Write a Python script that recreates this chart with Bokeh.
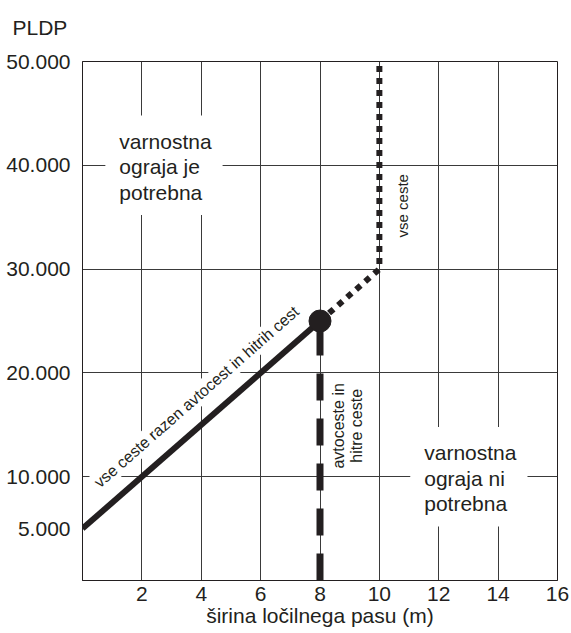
from bokeh.plotting import figure
from bokeh.models import FixedTicker, Label, Title
from bokeh.embed import file_html
from bokeh.resources import INLINE
import math

# ---- data ----
x_ticks = [2, 4, 6, 8, 10, 12, 14, 16]
y_ticks = [5000, 10000, 20000, 30000, 40000, 50000]
y_tick_labels = ["5.000", "10.000", "20.000", "30.000", "40.000", "50.000"]
y_grid = [10000, 20000, 30000, 40000, 50000]

# all roads except motorways and expressways
solid_x = [0, 8]
solid_y = [5000, 25000]
# motorways and expressways
dashed_x = [8, 8]
dashed_y = [0, 25000]
# all roads
dotted_x = [8, 10, 10]
dotted_y = [25000, 30000, 50000]
# breakpoint
point_x = [8]
point_y = [25000]

INK = "#231f20"
GRID = "#3a3a3a"
FONT = "Liberation Sans"
BIG = "21px"

p = figure(width=571, height=633, x_range=(0, 16), y_range=(0, 50000),
           output_backend="svg", toolbar_location=None,
           min_border_left=82, min_border_right=14,
           min_border_top=61, min_border_bottom=53)

p.outline_line_color = INK
p.outline_line_width = 1
p.outline_line_alpha = 1.0

p.xaxis.ticker = FixedTicker(ticks=x_ticks)
p.yaxis.ticker = FixedTicker(ticks=y_ticks)
p.yaxis.major_label_overrides = {t: l for t, l in zip(y_ticks, y_tick_labels)}
p.xgrid.ticker = FixedTicker(ticks=x_ticks)
p.ygrid.ticker = FixedTicker(ticks=y_grid)
for g in (p.xgrid, p.ygrid):
    g.grid_line_color = GRID
    g.grid_line_width = 1
    g.grid_line_alpha = 1.0

for ax in (p.xaxis, p.yaxis):
    ax.axis_line_color = INK
    ax.major_tick_line_color = None
    ax.minor_tick_line_color = None
    ax.major_tick_out = 0
    ax.major_tick_in = 0
    ax.major_label_text_font = FONT
    ax.major_label_text_font_size = BIG
    ax.major_label_text_color = INK
p.xaxis.major_label_standoff = 6
p.yaxis.major_label_standoff = 12
p.xaxis.axis_label = "širina ločilnega pasu (m)"
p.xaxis.axis_label_text_font = FONT
p.xaxis.axis_label_text_font_size = BIG
p.xaxis.axis_label_text_font_style = "normal"
p.xaxis.axis_label_text_color = INK
p.xaxis.axis_label_standoff = 0

# y-axis title, written horizontally above the axis
p.add_layout(Title(text="PLDP\n ", align="left", offset=-70, standoff=0,
                   vertical_align="bottom",
                   text_font=FONT, text_font_size=BIG,
                   text_font_style="normal", text_color=INK), "above")

# ---- marks ----
p.line(solid_x, solid_y, line_width=6, line_color=INK, line_cap="butt")
p.line(dashed_x, dashed_y, line_width=7, line_color=INK, line_dash="27 18",
       line_cap="butt")
p.line(dotted_x, dotted_y, line_width=6, line_color=INK, line_dash="6 6",
       line_cap="butt", line_join="miter")
p.scatter(point_x, point_y, size=22, marker="circle", fill_color=INK,
          line_color=INK)

# ---- annotations ----
p.add_layout(Label(x=0.77, y=40000, text="varnostna\nograja je\npotrebna",
                   text_font=FONT, text_font_size=BIG, text_color=INK,
                   text_align="left", text_baseline="middle",
                   text_line_height=1.12,
                   background_fill_color="white", padding=(14, 11, 14, 11)))
p.add_layout(Label(x=11.04, y=10000, text="varnostna\nograja ni\npotrebna",
                   text_font=FONT, text_font_size=BIG, text_color=INK,
                   text_align="left", text_baseline="middle",
                   text_line_height=1.12,
                   background_fill_color="white", padding=(14, 11, 14, 11)))
p.add_layout(Label(x=10.78, y=36100, text="vse ceste", angle=math.pi / 2,
                   text_font=FONT, text_font_size="15px", text_color=INK,
                   text_align="center", text_baseline="middle"))
p.add_layout(Label(x=8.93, y=14900, text="avtoceste in\nhitre ceste",
                   angle=math.pi / 2, text_font=FONT, text_font_size="16px",
                   text_color=INK, text_align="center", text_baseline="middle",
                   text_line_height=1.1))
p.add_layout(Label(x=3.84, y=17700, text="vse ceste razen avtocest in hitrih cest",
                   angle=math.radians(41.2), text_font=FONT,
                   text_font_size="16px", text_color=INK,
                   text_align="center", text_baseline="middle",
                   background_fill_color="white", padding=2))

open("out.html", "w").write(file_html(p, INLINE))
